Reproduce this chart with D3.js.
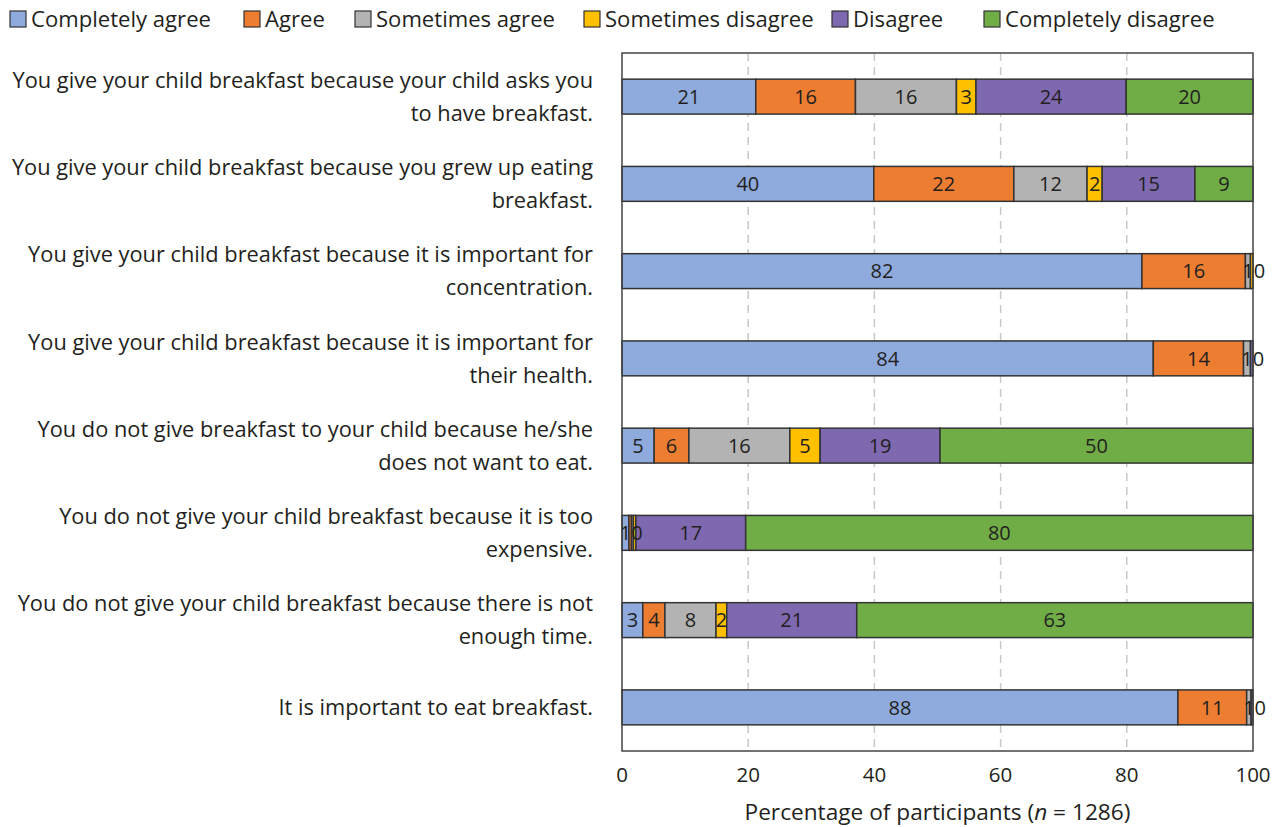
<!DOCTYPE html>
<html>
<head>
<meta charset="utf-8">
<script src="https://cdn.jsdelivr.net/npm/d3@7"></script>
<style>
  body { margin: 0; background: #fff; }
  text { font-family: "Open Sans", Lato, sans-serif; fill: #231f20; }
</style>
</head>
<body>
<div id="chart-area"></div>
<script>
var questions = [
    ["You give your child breakfast because your child asks you", "to have breakfast."],
    ["You give your child breakfast because you grew up eating", "breakfast."],
    ["You give your child breakfast because it is important for", "concentration."],
    ["You give your child breakfast because it is important for", "their health."],
    ["You do not give breakfast to your child because he/she", "does not want to eat."],
    ["You do not give your child breakfast because it is too", "expensive."],
    ["You do not give your child breakfast because there is not", "enough time."],
    ["It is important to eat breakfast."]
];
var answers = ["Completely agree", "Agree", "Sometimes agree", "Sometimes disagree", "Disagree", "Completely disagree"];
var colors = ["#8faadc", "#ed7d31", "#b3b3b3", "#ffc000", "#7e68b0", "#70ad47"];

// one array per answer, one value per question (percent)
var completelyAgree    = [21.2, 39.9, 82.4, 84.2,  5.1,  1.1,  3.3, 88.1];
var agree              = [15.8, 22.2, 16.4, 14.3,  5.5,  0.4,  3.5, 10.9];
var sometimesAgree     = [16.0, 11.6,  0.8,  1.1, 16.0,  0.3,  8.1,  0.7];
var sometimesDisagree  = [ 3.1,  2.4,  0.4,  0.0,  4.8,  0.4,  1.7,  0.0];
var disagree           = [23.8, 14.7,  0.0,  0.4, 19.0, 17.4, 20.6,  0.3];
var completelyDisagree = [20.1,  9.2,  0.0,  0.0, 49.6, 80.4, 62.8,  0.0];

var xTicks = [0, 20, 40, 60, 80, 100];

var series = [completelyAgree, agree, sometimesAgree, sometimesDisagree, disagree, completelyDisagree];

var width = 1281, height = 827;
var margin = { top: 53, right: 28, bottom: 76, left: 622 };
var plotW = width - margin.left - margin.right;
var plotH = height - margin.top - margin.bottom;

var svg = d3.select("#chart-area").append("svg")
    .attr("width", width)
    .attr("height", height);

// pick a font size so that a sample string gets the wanted width
function fitSize(sample, target) {
    var t = svg.append("text").style("font-size", "20px").text(sample);
    var len = t.node().getComputedTextLength();
    t.remove();
    return 20 * target / len;
}
var qSize = fitSize(questions[0][0], 581);
var legSize = fitSize(answers[0], 180);
var titleSize = fitSize("Percentage of participants (n = 1286)", 387);

var g = svg.append("g")
    .attr("transform", "translate(" + margin.left + "," + margin.top + ")");

var x = d3.scaleLinear().domain([0, 100]).range([0, plotW]);
var y = d3.scaleBand().domain(d3.range(questions.length)).range([0, plotH])
    .paddingInner(0.6).paddingOuter(0.3);

// gridlines
g.selectAll(".grid")
    .data(xTicks.slice(1, -1))
    .enter().append("line")
    .attr("x1", function (d) { return x(d); })
    .attr("x2", function (d) { return x(d); })
    .attr("y1", 0)
    .attr("y2", plotH)
    .attr("stroke", "#c8c8c8")
    .attr("stroke-width", 1.5)
    .attr("stroke-dasharray", "8,6");

// build stacked rows
var rows = questions.map(function (q, i) {
    var x0 = 0;
    var out = [];
    series.forEach(function (s, k) {
        if (s[i] > 0) out.push({ row: i, k: k, v: s[i], x0: x0, x1: x0 + s[i] });
        x0 += s[i];
    });
    return out;
});
var segs = [].concat.apply([], rows);

g.selectAll(".seg")
    .data(segs)
    .enter().append("rect")
    .attr("x", function (d) { return x(d.x0); })
    .attr("y", function (d) { return y(d.row); })
    .attr("width", function (d) { return x(d.x1) - x(d.x0); })
    .attr("height", y.bandwidth())
    .attr("fill", function (d) { return colors[d.k]; })
    .attr("stroke", "#333")
    .attr("stroke-width", 1.5);

// value labels; tiny segments get their labels set side by side
var valSize = 20;
rows.forEach(function (segRow) {
    var prevRight = -Infinity, prevText = null;
    segRow.forEach(function (d) {
        var txt = String(Math.round(d.v));
        var t = g.append("text")
            .attr("y", y(d.row) + y.bandwidth() / 2)
            .attr("dy", "0.36em")
            .attr("text-anchor", "middle")
            .style("font-size", valSize + "px")
            .text(txt);
        var w = t.node().getComputedTextLength();
        var cx = x((d.x0 + d.x1) / 2);
        var tiny = x(d.x1) - x(d.x0) < w;
        if (tiny && txt === prevText && cx - w / 2 < prevRight) { t.remove(); return; }
        if (tiny) cx = Math.max(cx, prevRight + w / 2);
        t.attr("x", cx);
        prevRight = cx + w / 2;
        prevText = txt;
    });
});

// frame
g.append("rect")
    .attr("x", 0).attr("y", 0)
    .attr("width", plotW).attr("height", plotH)
    .attr("fill", "none")
    .attr("stroke", "#444")
    .attr("stroke-width", 1.5);

// x axis labels
g.selectAll(".tick")
    .data(xTicks)
    .enter().append("text")
    .attr("x", function (d) { return x(d); })
    .attr("y", plotH + 31)
    .attr("text-anchor", "middle")
    .style("font-size", "20.5px")
    .text(function (d) { return d; });

var title = g.append("text")
    .attr("x", plotW / 2)
    .attr("y", plotH + 69)
    .attr("text-anchor", "middle")
    .style("font-size", titleSize + "px");
title.append("tspan").text("Percentage of participants (");
title.append("tspan").style("font-style", "italic").text("n");
title.append("tspan").text(" = 1286)");

// question labels
questions.forEach(function (lines, i) {
    var cy = margin.top + y(i) + y.bandwidth() / 2;
    var lh = 33;
    var t = svg.append("text")
        .attr("text-anchor", "end")
        .style("font-size", qSize + "px");
    lines.forEach(function (l, j) {
        t.append("tspan")
            .attr("x", 593)
            .attr("y", cy + (j - (lines.length - 1) / 2) * lh)
            .attr("dy", "0.36em")
            .text(l);
    });
});

// legend
var legX = [10, 244, 355, 584, 832, 984];
var leg = svg.selectAll(".leg")
    .data(answers)
    .enter().append("g")
    .attr("transform", function (d, i) { return "translate(" + legX[i] + ",11)"; });
leg.append("rect")
    .attr("width", 16).attr("height", 16)
    .attr("fill", function (d, i) { return colors[i]; })
    .attr("stroke", "#333")
    .attr("stroke-width", 1.2);
leg.append("text")
    .attr("x", 21)
    .attr("y", 8)
    .attr("dy", "0.36em")
    .style("font-size", legSize + "px")
    .text(function (d) { return d; });
</script>
</body>
</html>
